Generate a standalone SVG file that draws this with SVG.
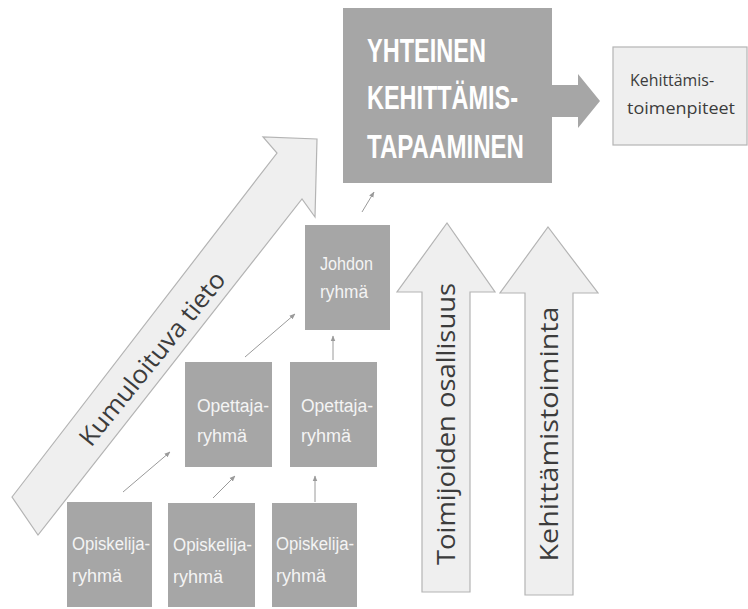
<svg xmlns="http://www.w3.org/2000/svg" width="748" height="609" viewBox="0 0 748 609">
<defs>
<style>
.box{fill:#a6a6a6}
.lt{fill:#efefef;stroke:#b4b4b4;stroke-width:1.2}
.wt{font-family:"Liberation Sans",Arial,sans-serif;font-size:18px;fill:#f4f4f4}
.big{font-family:"Liberation Sans",Arial,sans-serif;font-size:33px;font-weight:bold;fill:#ffffff}
.dk{font-family:"Open Sans","Liberation Sans",sans-serif;fill:#3c3c3c}
.con{stroke:#9a9a9a;stroke-width:1;fill:none;marker-end:url(#ah)}
</style>
<marker id="ah" viewBox="0 0 10 10" refX="9" refY="5" markerWidth="6" markerHeight="6" orient="auto" markerUnits="userSpaceOnUse">
<path d="M0,1 L10,5 L0,9 Z" fill="#9a9a9a"/>
</marker>
</defs>
<rect width="748" height="609" fill="#ffffff"/>

<g id="arrow-kumuloituva">
<polygon class="lt" points="12,497 277,153 263,137 317,139 315,217 302,199 38,535"/>
<text class="dk" font-size="25" text-anchor="middle" textLength="216" lengthAdjust="spacingAndGlyphs" transform="translate(159,364) rotate(-51)">Kumuloituva tieto</text>
</g>

<g id="yhteinen">
<rect class="box" x="343" y="8" width="209" height="175"/>
<text class="big" x="367" y="62" textLength="119" lengthAdjust="spacingAndGlyphs">YHTEINEN</text>
<text class="big" x="367" y="109" textLength="151" lengthAdjust="spacingAndGlyphs">KEHITTÄMIS-</text>
<text class="big" x="367" y="158" textLength="157" lengthAdjust="spacingAndGlyphs">TAPAAMINEN</text>
</g>

<g id="arrow-right">
<polygon fill="#a6a6a6" points="552,85 578,85 578,74 600,101 578,128 578,117 552,117"/>
</g>

<g id="toimenpiteet">
<rect class="lt" x="613" y="47" width="134" height="98"/>
<text class="dk" font-size="17" x="630" y="86" textLength="84" lengthAdjust="spacingAndGlyphs">Kehittämis-</text>
<text class="dk" font-size="17" x="627" y="114" textLength="108" lengthAdjust="spacingAndGlyphs">toimenpiteet</text>
</g>

<g id="johdon">
<rect class="box" x="305" y="225" width="85" height="105"/>
<text class="wt" font-size="17" x="320" y="270" textLength="53" lengthAdjust="spacingAndGlyphs">Johdon</text>
<text class="wt" font-size="17" x="320" y="298" textLength="48" lengthAdjust="spacingAndGlyphs">ryhmä</text>
</g>

<g id="opettaja1">
<rect class="box" x="185" y="362" width="87" height="105"/>
<text class="wt" x="197" y="412" textLength="72" lengthAdjust="spacingAndGlyphs">Opettaja-</text>
<text class="wt" x="197" y="442">ryhmä</text>
</g>

<g id="opettaja2">
<rect class="box" x="290" y="362" width="87" height="105"/>
<text class="wt" x="301" y="412" textLength="72" lengthAdjust="spacingAndGlyphs">Opettaja-</text>
<text class="wt" x="301" y="442">ryhmä</text>
</g>

<g id="opiskelija1">
<rect class="box" x="67" y="502" width="85" height="105"/>
<text class="wt" x="72" y="550" textLength="78" lengthAdjust="spacingAndGlyphs">Opiskelija-</text>
<text class="wt" x="72" y="582">ryhmä</text>
</g>

<g id="opiskelija2">
<rect class="box" x="168" y="503" width="87" height="104"/>
<text class="wt" x="173" y="551" textLength="79" lengthAdjust="spacingAndGlyphs">Opiskelija-</text>
<text class="wt" x="173" y="583">ryhmä</text>
</g>

<g id="opiskelija3">
<rect class="box" x="272" y="503" width="85" height="104"/>
<text class="wt" x="276" y="550" textLength="78" lengthAdjust="spacingAndGlyphs">Opiskelija-</text>
<text class="wt" x="276" y="582">ryhmä</text>
</g>

<g id="arrow-toimijoiden">
<polygon class="lt" points="422,592 422,292 397,292 447,223 495,292 470,292 470,592"/>
<text class="dk" font-size="26" text-anchor="middle" textLength="282" lengthAdjust="spacingAndGlyphs" transform="translate(455,424) rotate(-90)">Toimijoiden osallisuus</text>
</g>

<g id="arrow-kehittamistoiminta">
<polygon class="lt" points="525,595 525,293 500,293 548,227 598,293 573,293 573,595"/>
<text class="dk" font-size="26" text-anchor="middle" textLength="255" lengthAdjust="spacingAndGlyphs" transform="translate(558,434) rotate(-90)">Kehittämistoiminta</text>
</g>

<g id="connectors">
<line class="con" x1="123" y1="492" x2="170" y2="452"/>
<line class="con" x1="213" y1="498" x2="235" y2="476"/>
<line class="con" x1="315" y1="502" x2="315" y2="476"/>
<line class="con" x1="245" y1="357" x2="295" y2="314"/>
<line class="con" x1="333" y1="360" x2="333" y2="336"/>
<line class="con" x1="362" y1="212" x2="374" y2="192"/>
</g>
</svg>
